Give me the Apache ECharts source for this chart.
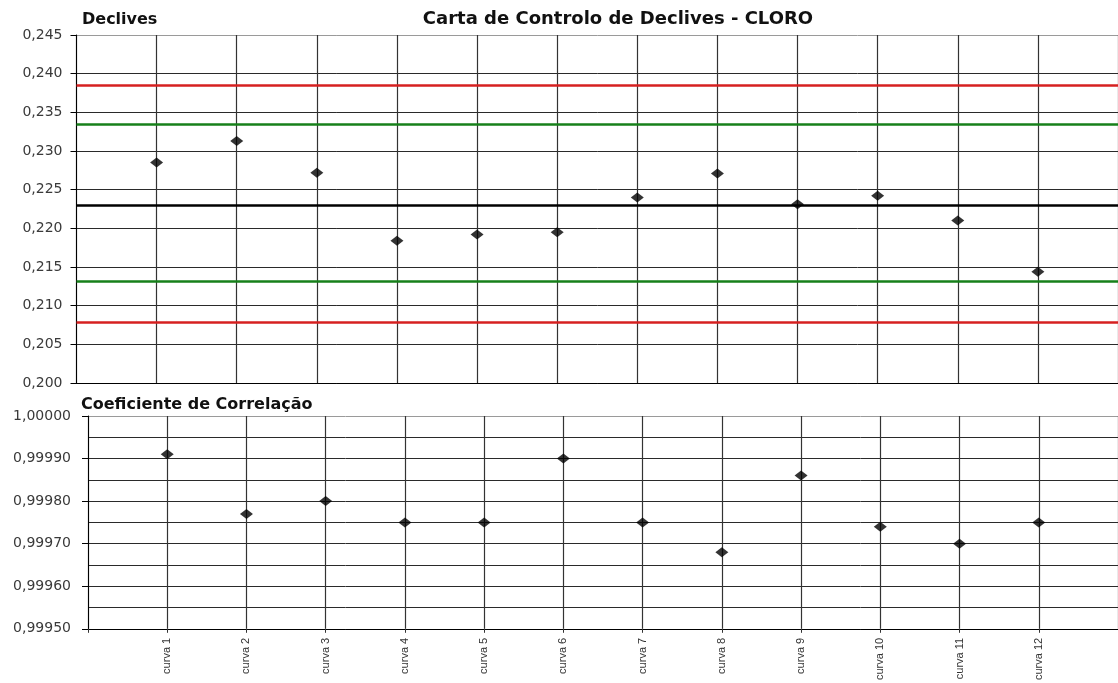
<!DOCTYPE html>
<html>
<head>
<meta charset="utf-8">
<script src="https://cdn.jsdelivr.net/npm/echarts@6/dist/echarts.min.js"></script>
<style>
  html, body { margin: 0; padding: 0; background: #fff; }
  #chart { width: 1118px; height: 683px; }
</style>
</head>
<body>
<div id="chart"></div>
<script>
// Curve labels along the shared x positions
const curvas = ['curva 1', 'curva 2', 'curva 3', 'curva 4', 'curva 5', 'curva 6',
                'curva 7', 'curva 8', 'curva 9', 'curva 10', 'curva 11', 'curva 12'];

// Slope of each calibration curve
const declives = [0.2285, 0.2313, 0.2272, 0.2184, 0.2192, 0.2195,
                  0.2240, 0.2271, 0.2231, 0.2242, 0.2210, 0.2144];

// Correlation coefficient of each calibration curve
const correlacao = [0.99991, 0.99977, 0.99980, 0.99975, 0.99975, 0.99990,
                    0.99975, 0.99968, 0.99986, 0.99974, 0.99970, 0.99975];

// Control limits for the slope chart
const media = 0.2230;
const limiteAvisoSup = 0.2334;
const limiteAvisoInf = 0.2131;
const limiteControloSup = 0.2385;
const limiteControloInf = 0.2078;

// Axis ranges and tick steps
const declivesEixo = { min: 0.200, max: 0.245, interval: 0.005 };
const correlacaoEixo = { min: 0.9995, max: 1.0, interval: 0.0001 };

const ptsDeclives = declives.map((v, i) => [i + 1, v]);
const ptsCorrelacao = correlacao.map((v, i) => [i + 1, v]);

const labelFont = 'DejaVu Sans';
const gridDark = '#2a2a2a';

function splitColors(n) {
  const c = [];
  for (let i = 0; i < n; i++) c.push(i === n - 1 ? '#9a9a9a' : gridDark);
  return c;
}

function limitLine(value, color) {
  return { yAxis: value, lineStyle: { color: color, width: 2.5, type: 'solid' } };
}

const chart = echarts.init(document.getElementById('chart'), null, { renderer: 'canvas' });

chart.setOption({
  backgroundColor: '#ffffff',
  animation: false,
  title: [
    {
      text: 'Carta de Controlo de Declives - CLORO',
      left: 613, top: 5, textAlign: 'center',
      textStyle: { fontFamily: labelFont, fontSize: 18, fontWeight: 'bold', color: '#111' }
    },
    {
      text: 'Declives',
      left: 77, top: 7,
      textStyle: { fontFamily: labelFont, fontSize: 16, fontWeight: 'bold', color: '#111' }
    },
    {
      text: 'Coeficiente de Correlação',
      left: 76, top: 392,
      textStyle: { fontFamily: labelFont, fontSize: 16, fontWeight: 'bold', color: '#111' }
    }
  ],
  grid: [
    { left: 76.5, top: 35, width: 1053, height: 348, containLabel: false },
    { left: 88, top: 416, width: 1042.6, height: 216, containLabel: false }
  ],
  xAxis: [
    {
      type: 'value', gridIndex: 0, min: 0, max: 13, interval: 1,
      axisLine: { show: true, lineStyle: { color: '#000', width: 1 } },
      axisTick: { show: false },
      axisLabel: { show: false },
      splitLine: { show: true, lineStyle: { color: '#333', width: 1.2 } }
    },
    {
      type: 'value', gridIndex: 1, min: 0, max: 13, interval: 1,
      axisLine: { show: true, lineStyle: { color: '#000', width: 1 } },
      axisTick: { show: true, length: 4, inside: false, lineStyle: { color: '#333' } },
      axisLabel: {
        show: true, rotate: 90, margin: 9,
        fontFamily: 'Liberation Sans', fontSize: 11, color: '#333',
        formatter: v => (v >= 1 && v <= curvas.length) ? curvas[v - 1] : ''
      },
      splitLine: { show: true, lineStyle: { color: '#333', width: 1.2 } }
    }
  ],
  yAxis: [
    {
      type: 'value', gridIndex: 0,
      min: declivesEixo.min, max: declivesEixo.max, interval: declivesEixo.interval,
      axisLine: { show: true, lineStyle: { color: '#000', width: 1 } },
      axisTick: { show: true, length: 6, lineStyle: { color: '#000' } },
      axisLabel: {
        margin: 14, fontFamily: labelFont, fontSize: 14, color: '#3a3a3a',
        formatter: v => v.toFixed(3).replace('.', ',')
      },
      splitLine: { show: true, lineStyle: { color: splitColors(10), width: 1 } }
    },
    {
      type: 'value', gridIndex: 1,
      min: correlacaoEixo.min, max: correlacaoEixo.max, interval: correlacaoEixo.interval,
      axisLine: { show: true, lineStyle: { color: '#000', width: 1 } },
      axisTick: { show: true, length: 6, lineStyle: { color: '#000' } },
      minorTick: { show: false, splitNumber: 2 },
      minorSplitLine: { show: true, lineStyle: { color: gridDark, width: 1 } },
      axisLabel: {
        margin: 17, fontFamily: labelFont, fontSize: 14, color: '#3a3a3a',
        formatter: v => v.toFixed(5).replace('.', ',')
      },
      splitLine: { show: true, lineStyle: { color: splitColors(6), width: 1 } }
    }
  ],
  series: [
    {
      name: 'Declives', type: 'scatter', xAxisIndex: 0, yAxisIndex: 0,
      data: ptsDeclives, symbol: 'diamond', symbolSize: [13, 10],
      itemStyle: { color: '#000' }, z: 5,
      markLine: {
        silent: true, symbol: 'none', animation: false, precision: 5,
        label: { show: false },
        data: [
          limitLine(limiteControloSup, '#d62020'),
          limitLine(limiteAvisoSup, '#17801a'),
          limitLine(media, '#000'),
          limitLine(limiteAvisoInf, '#17801a'),
          limitLine(limiteControloInf, '#d62020')
        ]
      }
    },
    {
      name: 'Coeficiente de Correlação', type: 'scatter', xAxisIndex: 1, yAxisIndex: 1,
      data: ptsCorrelacao, symbol: 'diamond', symbolSize: [13, 10],
      itemStyle: { color: '#000' }, z: 5
    }
  ]
});
</script>
</body>
</html>
